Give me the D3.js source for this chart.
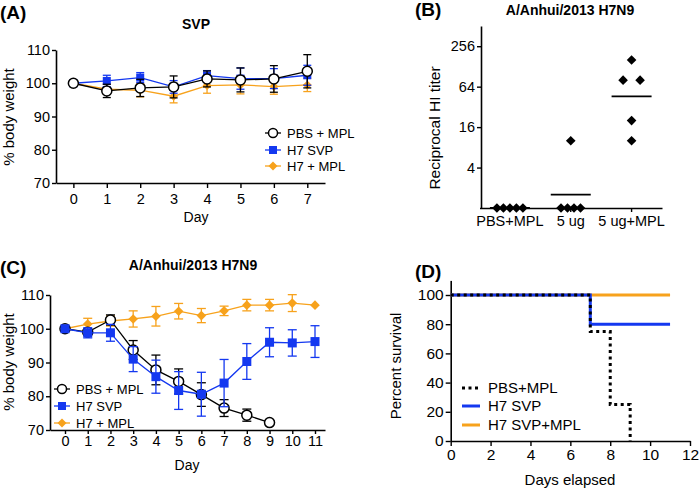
<!DOCTYPE html>
<html><head><meta charset="utf-8">
<script src="https://cdn.jsdelivr.net/npm/d3@7"></script>
<style>
body{margin:0;background:#fff}
svg{display:block}
text{font-family:"Liberation Sans",Arial,Helvetica,sans-serif;fill:#000}
</style>
</head><body>
<svg id="chart" width="700" height="491"></svg>
<script>
// ---------- DATA ----------
// Panel A (SVP) body weight
const daysA = [0,1,2,3,4,5,6,7];
const pbsA    = [100, 97.7, 98.6, 98.9, 101.3, 101.0, 101.3, 103.6];
const pbsAErr = [0, 2.0, 2.6, 3.3, 2.4, 3.6, 4.0, 5.0];
const svpA    = [100, 100.7, 101.7, 98.9, 102.3, 101.4, 101.4, 102.4];
const svpAErr = [0, 1.7, 1.5, 1.9, 1.5, 3.2, 3.0, 3.0];
const mplA    = [100, 98.2, 97.9, 96.1, 99.3, 99.5, 99.0, 99.5];
const mplAErr = [0, 1.5, 2.0, 2.0, 2.3, 2.7, 2.3, 2.0];
const weightTicks = [70,80,90,100,110];

// Panel B HI titers
const groupsB = ["PBS+MPL","5 ug","5 ug+MPL"];
const titersPBS = [1,1,1,1,1];
const titers5ug = [10,1,1,1,1];
const titers5ugMPL = [160,80,80,20,10];
const titerTicks = [4,16,64,256];

// Panel C (A/Anhui/2013 H7N9) body weight
const daysC = [0,1,2,3,4,5,6,7,8,9,10,11];
const pbsC    = [100, 99.0, 102.6, 93.7, 87.8, 84.4, 80.5, 76.5, 74.4, 72.2];
const pbsCErr = [0, 0.8, 1.5, 2.8, 4.4, 3.7, 3.5, 2.5, 1.8, 0];
const svpC    = [100, 98.8, 98.8, 91.0, 85.8, 81.7, 80.6, 83.9, 90.3, 96.0, 95.8, 96.2];
const svpCErr = [0, 1.5, 2.5, 3.7, 4.9, 5.6, 6.5, 7.0, 5.3, 4.3, 3.9, 4.7];
const mplC    = [100, 101.4, 102.3, 102.9, 103.7, 105.2, 103.9, 105.3, 107.0, 107.0, 107.6, 107.0];
const mplCErr = [0, 1.7, 1.5, 2.4, 2.9, 2.3, 2.1, 1.4, 1.7, 1.7, 2.5, 0];

// Panel D survival (Kaplan-Meier steps)
const survPBSdays = [0,7,8,9];
const survPBS     = [100,75,25,0];
const survSVPdays = [0,7,11];
const survSVP     = [100,80,80];
const survMPLdays = [0,11];
const survMPL     = [100,100];
const survXTicks = [0,2,4,6,8,10,12];
const survYTicks = [0,20,40,60,80,100];

// ---------- DRAWING ----------
const svg = d3.select("#chart");
const BLUE = "#1438f0", ORANGE = "#f7a21c", BLACK = "#000";
const FONT = '"Liberation Sans",Arial,Helvetica,sans-serif';

function diamondPath(r){ return `M0,${-r}L${r},0L0,${r}L${-r},0Z`; }
function drawMarker(g, type, r, color){
  if(type === "circle") g.append("circle").attr("r", r).attr("fill","#fff").attr("stroke",color).attr("stroke-width",1.5);
  else if(type === "square") g.append("rect").attr("x",-r).attr("y",-r).attr("width",2*r).attr("height",2*r).attr("fill",color);
  else g.append("path").attr("d", diamondPath(r)).attr("fill", color);
}
function styleAxis(g, fs){
  g.attr("font-family", FONT).attr("font-size", fs);
  g.selectAll("path.domain").attr("stroke","#000").attr("stroke-width",1.6);
  g.selectAll(".tick line").attr("stroke","#000").attr("stroke-width",1.4);
  g.selectAll(".tick text").attr("fill","#000");
}

function weightPanel(cfg){
  const g = svg.append("g");
  const x = d3.scaleLinear().domain(cfg.xDomain).range(cfg.xRange);
  const y = d3.scaleLinear().domain([70,110]).range(cfg.yRange);
  const yAx = g.append("g").attr("transform",`translate(${cfg.xRange[0]},0)`)
    .call(d3.axisLeft(y).tickValues(weightTicks).tickSize(4).tickPadding(2).tickSizeOuter(0));
  styleAxis(yAx, 14.5);
  const xAx = g.append("g").attr("transform",`translate(0,${cfg.yRange[0]})`)
    .call(d3.axisBottom(x).tickValues(cfg.days).tickFormat(d3.format("d")).tickSize(cfg.xTick).tickPadding(cfg.xPad).tickSizeOuter(0));
  styleAxis(xAx, 14.5);

  cfg.series.forEach(s => {
    const pts = s.vals.map((v,i)=>({d:cfg.days[i], v, e:s.errs[i]}));
    g.append("path").datum(pts)
      .attr("d", d3.line().x(p=>x(p.d)).y(p=>y(p.v)))
      .attr("fill","none").attr("stroke",s.color).attr("stroke-width",1.3);
    const eb = g.append("g").attr("stroke", s.color).attr("stroke-width",1.3);
    pts.filter(p=>p.e>0).forEach(p=>{
      const cx = x(p.d);
      eb.append("line").attr("x1",cx).attr("x2",cx).attr("y1",y(p.v-p.e)).attr("y2",y(p.v+p.e));
      eb.append("line").attr("x1",cx-cfg.cap).attr("x2",cx+cfg.cap).attr("y1",y(p.v-p.e)).attr("y2",y(p.v-p.e));
      eb.append("line").attr("x1",cx-cfg.cap).attr("x2",cx+cfg.cap).attr("y1",y(p.v+p.e)).attr("y2",y(p.v+p.e));
    });
    pts.forEach(p=>{
      const m = g.append("g").attr("transform",`translate(${x(p.d)},${y(p.v)})`);
      drawMarker(m, s.type, s.r, s.color);
    });
  });

  // legend
  cfg.legend.forEach((l,i)=>{
    const ly = cfg.legY[i];
    g.append("line").attr("x1",cfg.legX-8).attr("x2",cfg.legX+8).attr("y1",ly).attr("y2",ly)
      .attr("stroke",l.color).attr("stroke-width",1.3);
    const m = g.append("g").attr("transform",`translate(${cfg.legX},${ly})`);
    drawMarker(m, l.type, l.r, l.color);
    g.append("text").attr("x",cfg.legX+14).attr("y",ly).attr("dy","0.36em")
      .attr("font-size",13).text(l.label);
  });

  // labels
  g.append("text").attr("x",cfg.panelX).attr("y",cfg.panelY).attr("font-size",19).attr("font-weight","bold").text(cfg.panel);
  g.append("text").attr("x",cfg.titleX).attr("y",cfg.titleY).attr("text-anchor","middle")
    .attr("font-size",14).attr("font-weight","bold").text(cfg.title);
  g.append("text").attr("transform",`translate(${cfg.yLabX},${cfg.yLabY}) rotate(-90)`)
    .attr("text-anchor","middle").attr("font-size",15).text("% body weight");
  g.append("text").attr("x",cfg.xLabX).attr("y",cfg.xLabY).attr("text-anchor","middle")
    .attr("font-size",14).text("Day");
}

const legA = [
  {label:"PBS + MPL", color:BLACK, type:"circle", r:4.5},
  {label:"H7 SVP", color:BLUE, type:"square", r:4},
  {label:"H7 + MPL", color:ORANGE, type:"diamond", r:4.5}
];

// Panel A
weightPanel({
  days: daysA, xDomain:[-0.52,7.53], xRange:[56,325], yRange:[183,50],
  xTick:5, xPad:6, cap:4,
  series:[
    {vals:mplA, errs:mplAErr, color:ORANGE, type:"diamond", r:4.5},
    {vals:svpA, errs:svpAErr, color:BLUE, type:"square", r:4},
    {vals:pbsA, errs:pbsAErr, color:BLACK, type:"circle", r:5}
  ],
  legend: legA, legX:273, legY:[133,150,166],
  panel:"(A)", panelX:0, panelY:19, title:"SVP", titleX:196, titleY:29,
  yLabX:13.5, yLabY:117, xLabX:196, xLabY:222
});

// Panel C
weightPanel({
  days: daysC, xDomain:[-0.66,11.44], xRange:[50,325], yRange:[430,295],
  xTick:4, xPad:2, cap:4.5,
  series:[
    {vals:mplC, errs:mplCErr, color:ORANGE, type:"diamond", r:4.8},
    {vals:pbsC, errs:pbsCErr, color:BLACK, type:"circle", r:5},
    {vals:svpC, errs:svpCErr, color:BLUE, type:"square", r:4.5}
  ],
  legend: legA, legX:62, legY:[389,406,423],
  panel:"(C)", panelX:0, panelY:274, title:"A/Anhui/2013 H7N9", titleX:193, titleY:270,
  yLabX:13.5, yLabY:362, xLabX:187, xLabY:470
});

// Panel B
(function(){
  const g = svg.append("g");
  const x = d3.scaleBand().domain(groupsB).range([479.5,662]).padding(0);
  const y = d3.scaleLog().base(2).domain([1,512]).range([208,26]);
  const yAx = g.append("g").attr("transform","translate(481,0)")
    .call(d3.axisLeft(y).tickValues(titerTicks).tickFormat(d3.format("d")).tickSize(4).tickPadding(2).tickSizeOuter(0));
  styleAxis(yAx, 14.5);
  const xAx = g.append("g").attr("transform","translate(0,208)")
    .call(d3.axisBottom(x).tickSize(4).tickPadding(4).tickSizeOuter(0));
  styleAxis(xAx, 14.5);

  const sets = [titersPBS, titers5ug, titers5ugMPL];
  sets.forEach((vals,gi)=>{
    const cx = x(groupsB[gi]) + x.bandwidth()/2;
    // geometric mean line
    const gm = Math.pow(2, d3.mean(vals, v=>Math.log2(v)));
    g.append("line").attr("x1",cx-20).attr("x2",cx+20).attr("y1",y(gm)).attr("y2",y(gm))
      .attr("stroke","#000").attr("stroke-width",1.8);
    // spread duplicate values side by side
    const byVal = d3.group(vals, v=>v);
    byVal.forEach((arr, v)=>{
      const n = arr.length, step = n >= 3 ? 6.5 : 17;
      arr.forEach((_,k)=>{
        const px = cx + (k - (n-1)/2) * step;
        g.append("path").attr("d", diamondPath(4.8))
          .attr("transform",`translate(${px},${y(v)})`).attr("fill","#000");
      });
    });
  });

  g.append("text").attr("x",415).attr("y",16).attr("font-size",19).attr("font-weight","bold").text("(B)");
  g.append("text").attr("x",570).attr("y",15).attr("text-anchor","middle")
    .attr("font-size",14).attr("font-weight","bold").text("A/Anhui/2013 H7N9");
  g.append("text").attr("transform","translate(440,128) rotate(-90)")
    .attr("text-anchor","middle").attr("font-size",15.5).text("Reciprocal HI titer");
})();

// Panel D
(function(){
  const g = svg.append("g");
  const x = d3.scaleLinear().domain([0,12]).range([450.7,690]);
  const y = d3.scaleLinear().domain([0,110]).range([441,280.4]);
  const yAx = g.append("g").attr("transform","translate(450.7,0)")
    .call(d3.axisLeft(y).tickValues(survYTicks).tickSize(5).tickPadding(2).tickSizeOuter(0));
  styleAxis(yAx, 15.5);
  const xAx = g.append("g").attr("transform","translate(0,441)")
    .call(d3.axisBottom(x).tickValues(survXTicks).tickSize(5).tickPadding(3).tickSizeOuter(0));
  styleAxis(xAx, 15.5);

  const line = d3.line().x(p=>x(p[0])).y(p=>y(p[1])).curve(d3.curveStepAfter);
  const curves = [
    {days:survMPLdays, vals:survMPL, color:ORANGE, dash:null, label:"H7 SVP+MPL"},
    {days:survSVPdays, vals:survSVP, color:BLUE, dash:null, label:"H7 SVP"},
    {days:survPBSdays, vals:survPBS, color:"#000", dash:"3,3.5", label:"PBS+MPL"}
  ];
  curves.forEach(c=>{
    g.append("path").datum(c.days.map((d,i)=>[d,c.vals[i]]))
      .attr("d", line).attr("fill","none").attr("stroke",c.color).attr("stroke-width",3)
      .attr("stroke-dasharray", c.dash);
  });
  const legOrder = [curves[2], curves[1], curves[0]];
  const legY = [388,406,425];
  legOrder.forEach((c,i)=>{
    g.append("line").attr("x1",462).attr("x2",480).attr("y1",legY[i]).attr("y2",legY[i])
      .attr("stroke",c.color).attr("stroke-width",3).attr("stroke-dasharray",c.dash);
    g.append("text").attr("x",488).attr("y",legY[i]).attr("dy","0.36em").attr("font-size",15).text(c.label);
  });

  g.append("text").attr("x",415).attr("y",278).attr("font-size",19).attr("font-weight","bold").text("(D)");
  g.append("text").attr("transform","translate(401,366) rotate(-90)")
    .attr("text-anchor","middle").attr("font-size",15).text("Percent survival");
  g.append("text").attr("x",570).attr("y",485).attr("text-anchor","middle")
    .attr("font-size",15).text("Days elapsed");
})();
</script>
</body></html>
